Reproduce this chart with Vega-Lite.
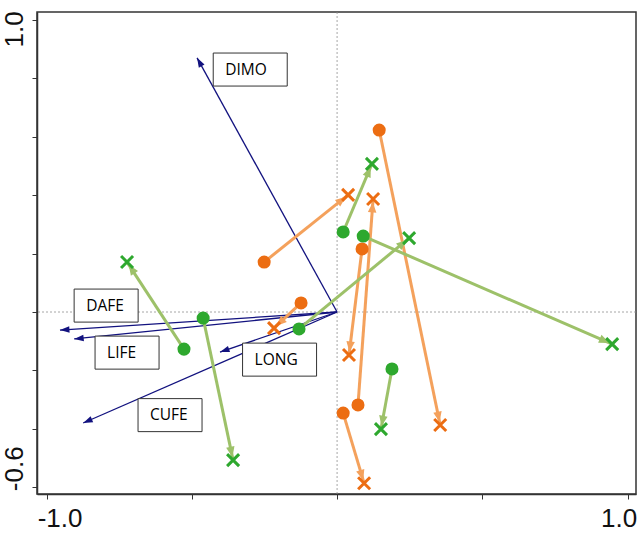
{
  "$schema": "https://vega.github.io/schema/vega-lite/v6.json",
  "width": 599,
  "height": 482,
  "autosize": {"type": "none"},
  "padding": {"left": 37, "top": 12, "right": 4, "bottom": 46},
  "background": "white",
  "config": {
    "view": {"stroke": "#333333", "strokeWidth": 1.5},
    "axis": {
      "grid": false,
      "domainColor": "#333333",
      "domainWidth": 1.5,
      "tickColor": "#333333",
      "tickWidth": 1,
      "tickSize": 5,
      "labelFont": "Liberation Sans",
      "labelFontSize": 26,
      "labelColor": "#111111"
    }
  },
  "datasets": {
    "vectors": [
      {"var": "DIMO", "ox": 0, "oy": 0, "vx": -0.482, "vy": 0.870, "lx": -0.299, "ly": 0.830},
      {"var": "DAFE", "ox": 0, "oy": 0, "vx": -0.954, "vy": -0.062, "lx": -0.795, "ly": 0.022},
      {"var": "LIFE", "ox": 0, "oy": 0, "vx": -0.905, "vy": -0.092, "lx": -0.723, "ly": -0.139},
      {"var": "LONG", "ox": 0, "oy": 0, "vx": -0.403, "vy": -0.137, "lx": -0.198, "ly": -0.163},
      {"var": "CUFE", "ox": 0, "oy": 0, "vx": -0.874, "vy": -0.380, "lx": -0.575, "ly": -0.353}
    ],
    "pairs": [
      {"set": "A", "x": -0.251, "y": 0.171, "xe": 0.038, "ye": 0.401},
      {"set": "A", "x": 0.145, "y": 0.623, "xe": 0.355, "ye": -0.387},
      {"set": "A", "x": 0.086, "y": 0.216, "xe": 0.041, "ye": -0.147},
      {"set": "A", "x": 0.072, "y": -0.318, "xe": 0.124, "ye": 0.387},
      {"set": "A", "x": 0.021, "y": -0.346, "xe": 0.093, "ye": -0.586},
      {"set": "A", "x": -0.124, "y": 0.031, "xe": -0.217, "ye": -0.055},
      {"set": "B", "x": -0.527, "y": -0.127, "xe": -0.723, "ye": 0.171},
      {"set": "B", "x": -0.461, "y": -0.021, "xe": -0.358, "ye": -0.507},
      {"set": "B", "x": -0.131, "y": -0.058, "xe": 0.248, "ye": 0.253},
      {"set": "B", "x": 0.021, "y": 0.274, "xe": 0.120, "ye": 0.507},
      {"set": "B", "x": 0.090, "y": 0.260, "xe": 0.947, "ye": -0.110},
      {"set": "B", "x": 0.189, "y": -0.195, "xe": 0.151, "ye": -0.401}
    ]
  },
  "layer": [
    {
      "data": {"values": [{"ref": 0}]},
      "mark": {"type": "rule", "color": "#8f8f8f", "strokeWidth": 0.8, "strokeDash": [2, 2]},
      "encoding": {
        "x": {
          "field": "ref",
          "type": "quantitative",
          "scale": {"domain": [-1.033, 1.029], "nice": false, "zero": false},
          "axis": {
            "title": null,
            "values": [-1, -0.5, 0, 0.5, 1],
            "labelExpr": "datum.value == -1 ? '-1.0' : (datum.value == 1 ? '1.0' : '')",
            "labelPadding": 6,
            "labelOffset": {"condition": {"test": "datum.value < 0", "value": 13}, "value": -9}
          }
        }
      }
    },
    {
      "data": {"values": [{"ref": 0}]},
      "mark": {"type": "rule", "color": "#8f8f8f", "strokeWidth": 0.8, "strokeDash": [2, 2]},
      "encoding": {
        "y": {
          "field": "ref",
          "type": "quantitative",
          "scale": {"domain": [-0.623, 1.027], "nice": false, "zero": false},
          "axis": {
            "title": null,
            "values": [-0.6, -0.4, -0.2, 0, 0.2, 0.4, 0.6, 0.8, 1.0],
            "labelExpr": "datum.value == 1 ? '1.0' : (abs(datum.value + 0.6) < 0.001 ? '-0.6' : '')",
            "labelAngle": -90,
            "labelPadding": 5,
            "labelOffset": {"condition": {"test": "datum.value > 0.5", "value": 9}, "value": -19}
          }
        }
      }
    },
    {
      "data": {"name": "vectors"},
      "mark": {"type": "rule", "color": "#12127f", "strokeWidth": 1.3},
      "encoding": {
        "x": {"field": "ox", "type": "quantitative"},
        "y": {"field": "oy", "type": "quantitative"},
        "x2": {"field": "vx"},
        "y2": {"field": "vy"}
      }
    },
    {
      "data": {"name": "vectors"},
      "transform": [
        {"calculate": "atan2(datum.vx * 290.5, datum.vy * 292.1) * 180 / PI", "as": "heading"}
      ],
      "mark": {
        "type": "point",
        "shape": "M0,0L0.65,1.9L-0.65,1.9Z",
        "filled": true,
        "size": 100,
        "color": "#12127f",
        "opacity": 1
      },
      "encoding": {
        "x": {"field": "vx", "type": "quantitative"},
        "y": {"field": "vy", "type": "quantitative"},
        "angle": {"field": "heading", "type": "quantitative", "scale": null}
      }
    },
    {
      "data": {"name": "pairs"},
      "transform": [
        {"calculate": "atan2((datum.xe - datum.x) * 290.5, (datum.ye - datum.y) * 292.1) * 180 / PI", "as": "heading"}
      ],
      "layer": [
        {
          "transform": [{"filter": "datum.set == 'A'"}],
          "layer": [
            {
              "mark": {"type": "rule", "strokeWidth": 3, "color": "#f4a15c"},
              "encoding": {
                "x": {"field": "x", "type": "quantitative"},
                "y": {"field": "y", "type": "quantitative"},
                "x2": {"field": "xe"},
                "y2": {"field": "ye"}
              }
            },
            {
              "mark": {"type": "point", "shape": "M0,0.6L0.85,2.7L-0.85,2.7Z", "filled": true, "size": 100, "opacity": 1, "color": "#f4a15c"},
              "encoding": {
                "x": {"field": "xe", "type": "quantitative"},
                "y": {"field": "ye", "type": "quantitative"},
                "angle": {"field": "heading", "type": "quantitative", "scale": null}
              }
            }
          ]
        },
        {
          "transform": [{"filter": "datum.set == 'B'"}],
          "layer": [
            {
              "mark": {"type": "rule", "strokeWidth": 3, "color": "#9dc169"},
              "encoding": {
                "x": {"field": "x", "type": "quantitative"},
                "y": {"field": "y", "type": "quantitative"},
                "x2": {"field": "xe"},
                "y2": {"field": "ye"}
              }
            },
            {
              "mark": {"type": "point", "shape": "M0,0.6L0.85,2.7L-0.85,2.7Z", "filled": true, "size": 100, "opacity": 1, "color": "#9dc169"},
              "encoding": {
                "x": {"field": "xe", "type": "quantitative"},
                "y": {"field": "ye", "type": "quantitative"},
                "angle": {"field": "heading", "type": "quantitative", "scale": null}
              }
            }
          ]
        },
        {
          "transform": [{"filter": "datum.set == 'A'"}],
          "layer": [
            {
              "mark": {"type": "point", "shape": "circle", "filled": true, "size": 170, "opacity": 1, "color": "#ec6d12"},
              "encoding": {
                "x": {"field": "x", "type": "quantitative"},
                "y": {"field": "y", "type": "quantitative"}
              }
            },
            {
              "mark": {"type": "point", "shape": "M-1,-1L1,1M1,-1L-1,1", "filled": false, "size": 144, "strokeWidth": 3, "opacity": 1, "color": "#ec6d12"},
              "encoding": {
                "x": {"field": "xe", "type": "quantitative"},
                "y": {"field": "ye", "type": "quantitative"}
              }
            }
          ]
        },
        {
          "transform": [{"filter": "datum.set == 'B'"}],
          "layer": [
            {
              "mark": {"type": "point", "shape": "circle", "filled": true, "size": 170, "opacity": 1, "color": "#2ea82e"},
              "encoding": {
                "x": {"field": "x", "type": "quantitative"},
                "y": {"field": "y", "type": "quantitative"}
              }
            },
            {
              "mark": {"type": "point", "shape": "M-1,-1L1,1M1,-1L-1,1", "filled": false, "size": 144, "strokeWidth": 3, "opacity": 1, "color": "#2ea82e"},
              "encoding": {
                "x": {"field": "xe", "type": "quantitative"},
                "y": {"field": "ye", "type": "quantitative"}
              }
            }
          ]
        }
      ]
    },
    {
      "data": {"name": "vectors"},
      "transform": [{"filter": "datum.var == 'DIMO' || datum.var == 'LONG'"}],
      "layer": [
        {
          "mark": {"type": "point", "shape": "M-1,-0.446L1,-0.446L1,0.446L-1,0.446Z", "size": 5476, "filled": true, "fill": "white", "stroke": "#333333", "strokeWidth": 1, "opacity": 1},
          "encoding": {
            "x": {"field": "lx", "type": "quantitative"},
            "y": {"field": "ly", "type": "quantitative"}
          }
        },
        {
          "mark": {"type": "text", "align": "left", "baseline": "middle", "dx": -25, "font": "Open Sans", "fontSize": 15.5, "color": "#000000"},
          "encoding": {
            "x": {"field": "lx", "type": "quantitative"},
            "y": {"field": "ly", "type": "quantitative"},
            "text": {"field": "var", "type": "nominal"}
          }
        }
      ]
    },
    {
      "data": {"name": "vectors"},
      "transform": [{"filter": "datum.var != 'DIMO' && datum.var != 'LONG'"}],
      "layer": [
        {
          "mark": {"type": "point", "shape": "M-1,-0.516L1,-0.516L1,0.516L-1,0.516Z", "size": 4096, "filled": true, "fill": "white", "stroke": "#333333", "strokeWidth": 1, "opacity": 1},
          "encoding": {
            "x": {"field": "lx", "type": "quantitative"},
            "y": {"field": "ly", "type": "quantitative"}
          }
        },
        {
          "mark": {"type": "text", "align": "left", "baseline": "middle", "dx": -20, "font": "Open Sans", "fontSize": 15.5, "color": "#000000"},
          "encoding": {
            "x": {"field": "lx", "type": "quantitative"},
            "y": {"field": "ly", "type": "quantitative"},
            "text": {"field": "var", "type": "nominal"}
          }
        }
      ]
    }
  ]
}
